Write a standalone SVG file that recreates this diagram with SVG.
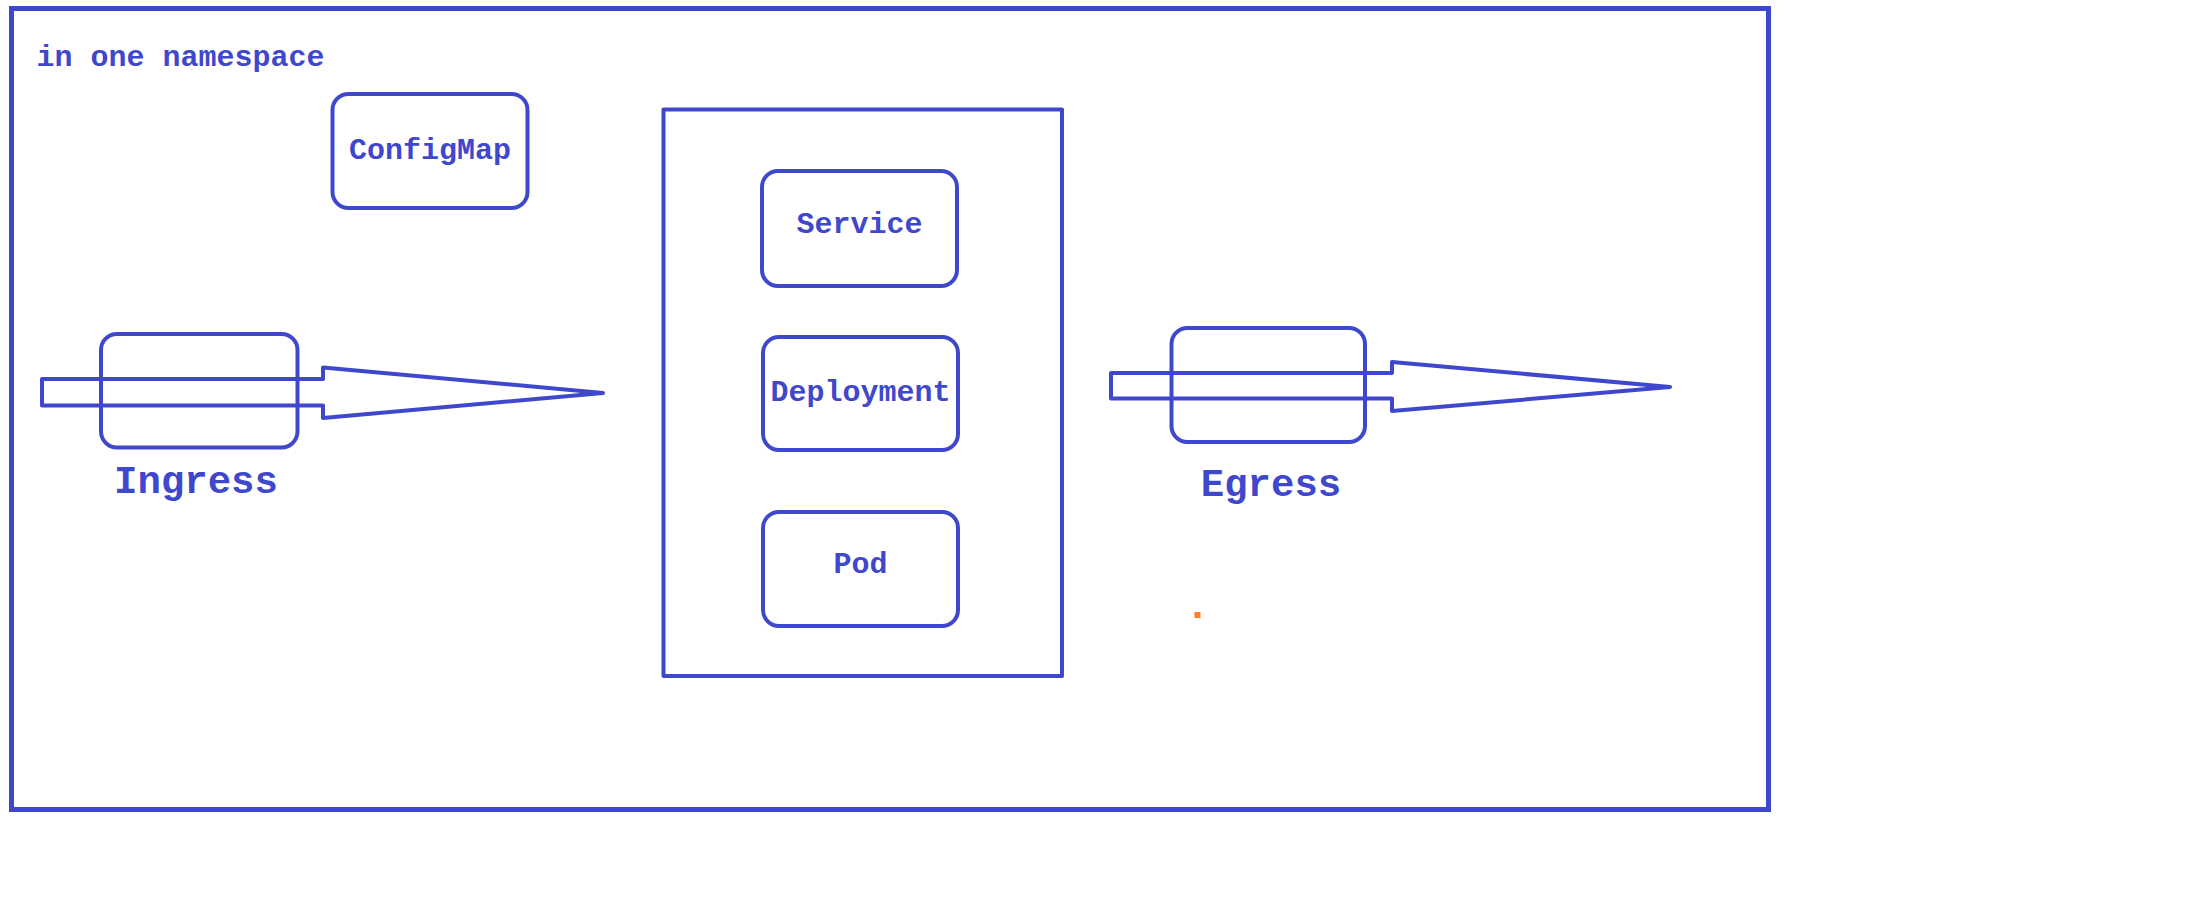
<svg xmlns="http://www.w3.org/2000/svg" width="2200" height="900" viewBox="0 0 2200 900">
<style>
.ln{fill:none;stroke:#3f48cc;stroke-width:4;stroke-linejoin:round}
.fr{fill:none;stroke:#3f48cc;stroke-width:5}
.t{font-family:"Liberation Mono","Courier New",monospace;font-weight:bold;fill:#3f48cc;font-size:30px}
.tb{font-family:"Liberation Mono","Courier New",monospace;font-weight:bold;fill:#3f48cc;font-size:39px}
</style>
<rect width="2200" height="900" fill="#ffffff"/>
<g id="namespace">
<rect class="fr" x="11.5" y="8.5" width="1757" height="801"/>
<text class="t" x="36.5" y="66">in one namespace</text>
</g>
<g id="configmap">
<rect class="ln" x="332.5" y="94" width="195" height="114" rx="16"/>
<text class="t" x="430" y="159" text-anchor="middle">ConfigMap</text>
</g>
<g id="workload">
<rect class="ln" x="663.5" y="109.5" width="398.5" height="566.5"/>
</g>
<g id="service">
<rect class="ln" x="762" y="171" width="195" height="115" rx="16"/>
<text class="t" x="859.5" y="233" text-anchor="middle">Service</text>
</g>
<g id="deployment">
<rect class="ln" x="763" y="337" width="195" height="113" rx="16"/>
<text class="t" x="860.5" y="401" text-anchor="middle">Deployment</text>
</g>
<g id="pod">
<rect class="ln" x="763" y="512" width="195" height="114" rx="16"/>
<text class="t" x="860.5" y="573" text-anchor="middle">Pod</text>
</g>
<g id="ingress">
<rect class="ln" x="101" y="334" width="196.5" height="113.5" rx="16"/>
<text class="tb" x="196" y="493" text-anchor="middle">Ingress</text>
</g>
<g id="egress">
<rect class="ln" x="1171.5" y="328" width="193.5" height="114" rx="16"/>
<text class="tb" x="1271" y="496" text-anchor="middle">Egress</text>
</g>
<g id="connectors">
<polygon class="ln" points="42,379 323,379 323,367.5 603,393 323,418 323,405.5 42,405.5"/>
<polygon class="ln" points="1111,373 1392,373 1392,362 1670,387 1392,411 1392,398.5 1111,398.5"/>
</g>
<rect x="1194.5" y="612" width="6" height="6" fill="#ff7f27"/>
</svg>
